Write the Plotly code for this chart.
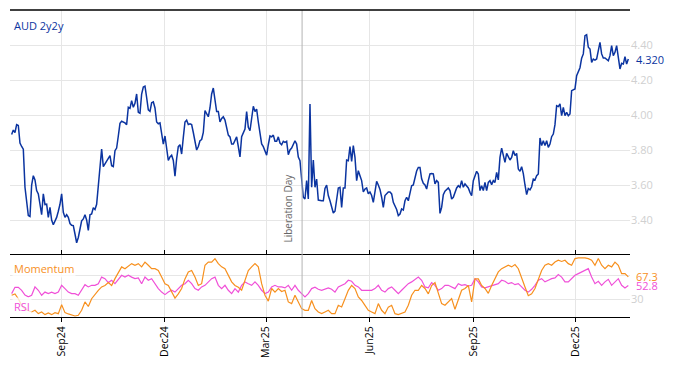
import pandas as pd
import plotly.graph_objects as go

# ---------------- data ----------------
aud_2y2y = [
    3.888, 3.914, 3.90, 3.945, 3.94, 3.84, 3.82, 3.805, 3.587, 3.50,
    3.425, 3.42, 3.60, 3.653, 3.629, 3.568, 3.549, 3.49, 3.43, 3.549,
    3.488, 3.49, 3.415, 3.472, 3.40, 3.373, 3.39, 3.415, 3.45, 3.49,
    3.549, 3.444, 3.415, 3.43, 3.415, 3.38, 3.37, 3.368, 3.32, 3.27,
    3.30, 3.36, 3.395, 3.406, 3.43, 3.40, 3.34, 3.43, 3.434, 3.47,
    3.46, 3.49, 3.60, 3.72, 3.806, 3.705, 3.72, 3.735, 3.749, 3.768,
    3.71, 3.705, 3.796, 3.811, 3.88, 3.952, 3.964, 3.96, 3.955, 3.945,
    4.044, 4.038, 4.082, 4.044, 4.067, 4.12, 4.015, 4.01, 4.12, 4.16,
    4.165, 4.10, 4.029, 4.021, 4.07, 4.075, 4.04, 3.96, 3.95, 3.955,
    3.90, 3.834, 3.88, 3.80, 3.74, 3.76, 3.77, 3.74, 3.65, 3.75,
    3.82, 3.83, 3.777, 3.872, 3.96, 3.97, 3.945, 3.949, 3.945, 3.90,
    3.844, 3.80, 3.82,
    3.853, 3.86, 3.90, 4.025, 4.01, 3.99, 4.04, 4.12, 4.154, 4.08,
    4.02, 4.02, 3.96, 3.98, 3.99, 3.971, 3.92, 3.885, 3.875, 3.834,
    3.834, 3.855, 3.875, 3.82, 3.76, 3.876, 3.90, 3.92, 4.02, 3.93,
    3.91, 4.00, 4.05, 4.02, 4.034, 3.96, 3.88, 3.835, 3.819, 3.79,
    3.77, 3.83, 3.88, 3.875, 3.885, 3.85, 3.85, 3.875, 3.84, 3.83,
    3.85, 3.844, 3.85, 3.773, 3.80, 3.811, 3.83, 3.853, 3.834, 3.76,
    3.739, 3.648, 3.53, 3.52, 3.625, 3.52, 4.063, 3.587, 3.743, 3.587,
    3.634, 3.514, 3.51, 3.51, 3.51, 3.58, 3.60, 3.54, 3.51, 3.472,
    3.44, 3.45, 3.51, 3.583, 3.587, 3.472, 3.583, 3.583, 3.743, 3.739,
    3.819, 3.735, 3.825, 3.758, 3.625, 3.682, 3.653, 3.625, 3.56, 3.577,
    3.583, 3.55, 3.56, 3.54, 3.501, 3.577, 3.621, 3.60, 3.575, 3.53,
    3.472, 3.54, 3.549, 3.56, 3.56, 3.549, 3.501, 3.48, 3.46, 3.425,
    3.434, 3.463, 3.457, 3.51, 3.53, 3.51, 3.564, 3.596, 3.60, 3.64,
    3.68, 3.70, 3.70, 3.635, 3.61, 3.60, 3.577, 3.625, 3.663, 3.665,
    3.663, 3.606, 3.625, 3.615, 3.438, 3.472, 3.545, 3.565, 3.575, 3.583,
    3.568, 3.52, 3.53, 3.56, 3.583, 3.596, 3.587, 3.625, 3.587, 3.606,
    3.596, 3.583, 3.558, 3.539, 3.625, 3.648, 3.678, 3.663, 3.568, 3.596,
    3.568, 3.615, 3.568, 3.615, 3.625, 3.602, 3.625, 3.615, 3.672, 3.629,
    3.758, 3.811, 3.773, 3.729, 3.781, 3.762, 3.743, 3.758, 3.796, 3.768,
    3.781, 3.691, 3.678, 3.705, 3.665, 3.60, 3.545, 3.58, 3.572, 3.59,
    3.634, 3.629, 3.653, 3.663, 3.869, 3.825, 3.853, 3.825, 3.853, 3.815,
    3.834, 3.876, 3.891, 3.945, 4.053, 4.048, 4.063, 3.996, 4.044, 3.996,
    4.015, 3.996, 4.006, 4.139, 4.143, 4.149, 4.225, 4.246, 4.27, 4.325,
    4.349, 4.453, 4.459, 4.387, 4.377, 4.301, 4.32, 4.314, 4.32, 4.368,
    4.415, 4.349, 4.326, 4.326, 4.32, 4.31, 4.339, 4.396, 4.339, 4.358,
    4.396, 4.32, 4.263, 4.295, 4.291, 4.333, 4.291, 4.32,
]

momentum = [
    36.7, 39, 31, 20, 13.3, 11.7, 8.9, 11.7, 6.1, 8.9,
    4.4, 7.2, 4.4, 7.8, 6.1, 21, 7.8, 5.6, 3.3, 2.2,
    3.3, 11.7, 25.6, 18, 31, 39, 45, 50.6, 53, 57.8,
    53, 64.4, 75.6, 84, 81, 85.6, 89.4, 86.7, 89.4, 84,
    92, 86.7, 81, 81, 78, 67, 56, 53, 42, 32,
    39, 48, 64, 75.6, 78, 67, 53, 56, 86.7, 92,
    92,
    97.8, 89.4, 84, 81, 70, 59, 53, 50, 45, 61.7,
    78, 84, 89.4, 84, 56, 36.7, 27, 48, 42, 48,
    43, 45, 25.6, 22.8, 36.7, 25.6, 14.4, 11.7, 11.7, 28,
    14.4, 8.9, 6.1, 8.9, 11.7, 6.1, 6.1, 20, 17.2, 31,
    45, 53, 48, 33.9, 28, 20, 11.7, 8.9, 6.1, 22.8,
    11.7, 6.1, 17, 20, 6.1, 4.4, 6.1, 8.9, 20, 36.7,
    45, 45, 53,
    48, 39, 53, 57.8, 42, 22.8, 20, 25.6, 31, 13.3,
    31, 45, 48, 53, 25.6, 64, 64, 53, 48, 40,
    53, 64, 75.6, 81, 84, 86.7, 84, 87.8, 81, 64,
    50.6, 36, 39, 48, 64, 78, 86.7, 89.4, 86.7, 92,
    95, 93, 95, 89.4, 86.7, 97.8, 98.9, 99.4, 98.9, 97.8,
    95, 86.7, 97.8, 86.7, 81, 86.7, 84, 92, 86.7, 72.8,
    72.8, 67.3,
]

rsi = [
    39.4, 50, 50, 45, 37, 34, 36.7, 50.6, 45, 36.7,
    42, 39.4, 42, 39.4, 42, 53.3, 47.8, 42, 39.4, 39.4,
    36.7, 45, 54.4, 50.6, 53.3, 53.3, 56, 67, 64.4, 57.8,
    61.7, 56, 63.3, 70, 67, 70, 67, 64.4, 65.6, 56,
    67, 61.7, 64.4, 56, 47.8, 42, 37.8, 42, 45, 42,
    47.8, 53.3, 56, 61.7, 56, 47.8, 45, 50.6, 53.3, 59,
    64.4,
    67, 53.3, 47.8, 53.3, 45, 39.4, 47.8, 42, 53.3, 59,
    56, 53.3, 59, 53.3, 45, 39.4, 42, 50.6, 53.3, 50.6,
    50.6, 49, 53.3, 45, 53.3, 45, 39.4, 34, 39.4, 47.8,
    50, 46.7, 45, 46.7, 49, 46.7, 42, 50.6, 53.3, 56,
    61.7, 60, 53.3, 50.6, 45, 45, 45, 45, 47.8, 53.3,
    45, 42, 47.8, 50.6, 45, 39.4, 45, 50.6, 56, 59,
    63.3, 67, 61.7,
    50.6, 49, 57.8, 53.3, 45, 47.8, 53.3, 53.3, 50.6, 47.8,
    56, 53.3, 54.4, 52.2, 53.3, 64.4, 59, 50.6, 49, 50.6,
    53.3, 54.4, 56, 61.7, 60, 56, 57.8, 54.4, 56, 50.6,
    45, 42, 46.7, 53.3, 61.7, 64.4, 59, 61.7, 64.4, 65.6,
    71.1, 67, 59, 59, 64.4, 70, 72.8, 75.6, 78.3, 81,
    67, 56, 60, 53.3, 59, 63.3, 53.3, 59, 64.4, 53.3,
    49, 52.8,
]

series_start = "2024-07-18 08:00"
series_end = "2026-01-16 10:00"
tick_dates = ["2024-09-01", "2024-12-01", "2025-03-01", "2025-06-01", "2025-09-01", "2025-12-01"]
tick_labels = ["Sep24", "Dec24", "Mar25", "Jun25", "Sep25", "Dec25"]
event_date = "2025-04-02"
event_label = "Liberation Day"
price_ticks = [3.4, 3.6, 3.8, 4.0, 4.2, 4.4]

dates_main = pd.date_range(series_start, series_end, periods=len(aud_2y2y))
dates_osc = pd.date_range(series_start, series_end, periods=len(momentum))

BLUE = "#0b34a0"
ORANGE = "#f7901e"
MAGENTA = "#f050d8"
GRID = "#e6e6e6"
TICKGRAY = "#d0d0d0"
FONT = "Open Sans"

fig = go.Figure()
fig.add_trace(go.Scatter(x=dates_main, y=aud_2y2y, mode="lines",
                         line=dict(color=BLUE, width=1.5), xaxis="x", yaxis="y",
                         showlegend=False))
fig.add_trace(go.Scatter(x=dates_osc, y=rsi, mode="lines",
                         line=dict(color=MAGENTA, width=1.2), xaxis="x2", yaxis="y2",
                         showlegend=False))
fig.add_trace(go.Scatter(x=dates_osc, y=momentum, mode="lines",
                         line=dict(color=ORANGE, width=1.2), xaxis="x2", yaxis="y2",
                         showlegend=False))

xr = ["2024-07-16 21:00", "2026-01-17 22:00"]
split = 62 / 307

# page body adds an 8px offset; figure sized so the plot lands where the reference's does
fig.update_layout(
    width=658, height=350,
    margin=dict(l=2, r=36, t=2, b=41, autoexpand=False),
    paper_bgcolor="white", plot_bgcolor="white",
    font=dict(family=FONT, size=11, color="black"),
    xaxis=dict(domain=[0, 1], anchor="y", range=xr, type="date",
               tickvals=tick_dates, ticktext=tick_labels, showticklabels=False,
               showgrid=True, gridcolor=GRID, gridwidth=1,
               showline=False, ticks="", zeroline=False, automargin=False),
    yaxis=dict(domain=[split, 1], anchor="x", range=[3.2, 4.6], side="right",
               tickvals=price_ticks, tickformat=".2f",
               tickfont=dict(color=TICKGRAY, size=11),
               showgrid=True, gridcolor=GRID, gridwidth=1,
               showline=False, zeroline=False, ticks="", automargin=False),
    xaxis2=dict(domain=[0, 1], anchor="y2", range=xr, type="date", matches="x",
                tickvals=tick_dates, ticktext=tick_labels, tickangle=-90,
                tickfont=dict(color="black", size=10.5),
                showgrid=True, gridcolor=GRID, gridwidth=1,
                showline=True, linecolor="black", linewidth=1.3, mirror="ticks",
                ticks="outside", ticklen=4, tickcolor="black", zeroline=False,
                automargin=False),
    yaxis2=dict(domain=[0, split], anchor="x2", range=[0.5, 103.8], side="right",
                tickvals=[30, 70], ticktext=["30", ""],
                tickfont=dict(color=TICKGRAY, size=11),
                showgrid=True, gridcolor=GRID, gridwidth=1,
                showline=False, zeroline=False, ticks="", automargin=False),
)

fig.add_shape(type="line", xref="x", yref="paper", x0=event_date, x1=event_date,
              y0=0, y1=1, line=dict(color="#b4b4b4", width=1))
fig.add_shape(type="line", xref="paper", yref="paper", x0=0, x1=1, y0=1, y1=1,
              line=dict(color="black", width=1.3))

annotations = [
    dict(text="AUD 2y2y", xref="paper", yref="paper", x=0.004, y=(317 - 25) / 307,
         xanchor="left", yanchor="middle", showarrow=False,
         font=dict(color=BLUE, size=11)),
    dict(text=f"{aud_2y2y[-1]:.3f}", xref="paper", yref="y", x=1, y=aud_2y2y[-1],
         xanchor="left", yanchor="middle", xshift=4, showarrow=False,
         font=dict(color=BLUE, size=11)),
    dict(text=event_label, xref="x", yref="y", x=event_date, y=3.2,
         xanchor="right", yanchor="bottom", textangle=-90, yshift=10, xshift=-6,
         showarrow=False, font=dict(color="#666666", size=10)),
    dict(text="Momentum", xref="paper", yref="paper", x=0.004, y=(317 - 268) / 307,
         xanchor="left", yanchor="middle", showarrow=False,
         bgcolor="rgba(255,255,255,0.75)", font=dict(color=ORANGE, size=11)),
    dict(text="RSI", xref="paper", yref="paper", x=0.004, y=(317 - 306) / 307,
         xanchor="left", yanchor="middle", showarrow=False,
         bgcolor="rgba(255,255,255,0.75)", font=dict(color=MAGENTA, size=11)),
    dict(text=f"{momentum[-1]:.1f}", xref="paper", yref="y2", x=1, y=momentum[-1],
         xanchor="left", yanchor="middle", xshift=4, showarrow=False,
         font=dict(color=ORANGE, size=11)),
    dict(text=f"{rsi[-1]:.1f}", xref="paper", yref="y2", x=1, y=rsi[-1],
         xanchor="left", yanchor="middle", xshift=4, showarrow=False,
         font=dict(color=MAGENTA, size=11)),
]
fig.update_layout(annotations=annotations)

fig.write_html("out.html")
